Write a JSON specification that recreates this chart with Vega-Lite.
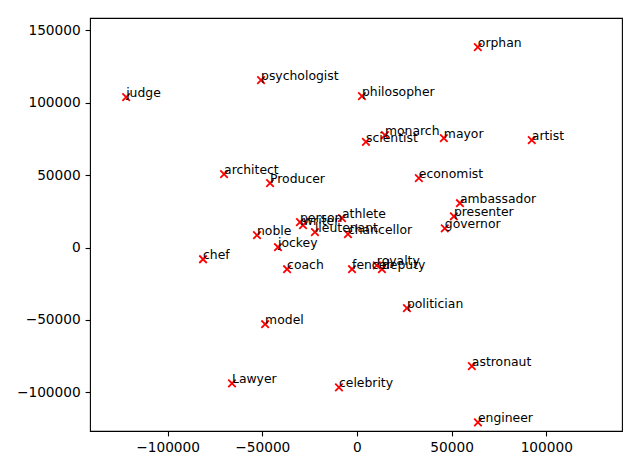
{
  "$schema": "https://vega.github.io/schema/vega-lite/v6.json",
  "width": 532,
  "height": 413,
  "autosize": {"type": "none"},
  "padding": {"left": 90, "top": 18, "right": 18, "bottom": 37},
  "background": "white",
  "config": {
    "view": {"stroke": "black", "strokeWidth": 1.1},
    "font": "DejaVu Sans",
    "axis": {
      "grid": false,
      "domain": false,
      "tickColor": "black",
      "tickSize": 4.9,
      "tickWidth": 1.1,
      "labelFont": "DejaVu Sans",
      "labelFontSize": 13.7,
      "labelColor": "black",
      "labelPadding": 4.9,
      "title": null,
      "format": "d"
    }
  },
  "data": {
    "values": [
      {"word": "orphan", "x": 63850, "y": 138500},
      {"word": "judge", "x": -121900, "y": 103900},
      {"word": "psychologist", "x": -50660, "y": 115700},
      {"word": "philosopher", "x": 2640, "y": 104600},
      {"word": "monarch", "x": 14780, "y": 77600},
      {"word": "scientist", "x": 4750, "y": 73000},
      {"word": "mayor", "x": 45900, "y": 75600},
      {"word": "artist", "x": 92350, "y": 74200},
      {"word": "architect", "x": -70200, "y": 50700},
      {"word": "Producer", "x": -45900, "y": 44500},
      {"word": "economist", "x": 32700, "y": 47900},
      {"word": "ambassador", "x": 54400, "y": 30600},
      {"word": "presenter", "x": 51200, "y": 21600},
      {"word": "governor", "x": 46400, "y": 13300},
      {"word": "person", "x": -30100, "y": 17500},
      {"word": "writer", "x": -28500, "y": 15400},
      {"word": "athlete", "x": -7900, "y": 20300},
      {"word": "lieutenant", "x": -22200, "y": 10600},
      {"word": "chancellor", "x": -4750, "y": 9200},
      {"word": "noble", "x": -52800, "y": 8500},
      {"word": "jockey", "x": -41700, "y": 200},
      {"word": "chef", "x": -81300, "y": -8100},
      {"word": "coach", "x": -36900, "y": -15000},
      {"word": "fencer", "x": -2600, "y": -15000},
      {"word": "royalty", "x": 10500, "y": -12300},
      {"word": "deputy", "x": 13200, "y": -15000},
      {"word": "politician", "x": 26400, "y": -41900},
      {"word": "model", "x": -48500, "y": -53000},
      {"word": "astronaut", "x": 60700, "y": -82000},
      {"word": "Lawyer", "x": -66000, "y": -93800},
      {"word": "celebrity", "x": -9500, "y": -96600},
      {"word": "engineer", "x": 63900, "y": -120800}
    ]
  },
  "encoding": {
    "x": {
      "field": "x", "type": "quantitative",
      "scale": {"domain": [-141000, 140000], "nice": false, "zero": false},
      "axis": {"values": [-100000, -50000, 0, 50000, 100000]}
    },
    "y": {
      "field": "y", "type": "quantitative",
      "scale": {"domain": [-126760, 158575], "nice": false, "zero": false},
      "axis": {"values": [-100000, -50000, 0, 50000, 100000, 150000]}
    }
  },
  "layer": [
    {
      "mark": {
        "type": "point",
        "shape": "M-1,-1L1,1M-1,1L1,-1",
        "filled": false,
        "stroke": "red",
        "strokeWidth": 1.8,
        "size": 56,
        "opacity": 1
      }
    },
    {
      "mark": {
        "type": "text",
        "align": "left",
        "baseline": "alphabetic",
        "fontSize": 12.4,
        "font": "DejaVu Sans",
        "color": "black"
      },
      "encoding": {"text": {"field": "word"}}
    }
  ]
}
